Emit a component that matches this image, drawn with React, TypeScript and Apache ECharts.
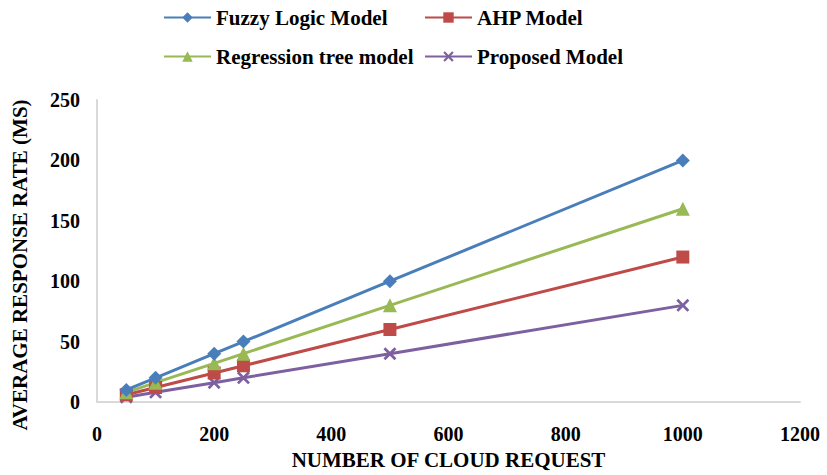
import React, { useEffect, useRef } from "react";
import * as echarts from "echarts";

const requests = [50, 100, 200, 250, 500, 1000];
const fuzzy = [10, 20, 40, 50, 100, 200];
const ahp = [6, 12, 24, 30, 60, 120];
const regression = [8, 16, 32, 40, 80, 160];
const proposed = [4, 8, 16, 20, 40, 80];

const seriesNames = ["Fuzzy Logic Model", "AHP Model", "Regression tree model", "Proposed Model"];
const xTicks = [0, 200, 400, 600, 800, 1000, 1200];
const yTicks = [0, 50, 100, 150, 200, 250];

const FONT = "'Liberation Serif', 'Times New Roman', serif";
const X_PATH =
  "path://M0,1.5 L1.5,0 L5,3.5 L8.5,0 L10,1.5 L6.5,5 L10,8.5 L8.5,10 L5,6.5 L1.5,10 L0,8.5 L3.5,5 Z";

export default function App() {
  const ref = useRef<HTMLDivElement>(null);
  useEffect(() => {
    document.body.style.margin = "0";
    if (!ref.current) return;
    const chart = echarts.init(ref.current, undefined, { renderer: "svg" });
    const pair = (ys: number[]) => requests.map((x, i) => [x, ys[i]]);
    const legendBase = {
      itemWidth: 47,
      itemHeight: 13,
      padding: 0,
      textStyle: { fontFamily: FONT, fontWeight: "bold" as const, fontSize: 21, color: "#000" },
    };
    chart.setOption({
      animation: false,
      backgroundColor: "#fff",
      legend: [
        { ...legendBase, data: [seriesNames[0]], left: 163, top: 7 },
        { ...legendBase, data: [seriesNames[1]], left: 424, top: 7 },
        { ...legendBase, data: [seriesNames[2]], left: 163, top: 46 },
        { ...legendBase, data: [seriesNames[3]], left: 424, top: 46 },
      ],
      grid: { left: 97, right: 27, top: 100, bottom: 70, containLabel: false },
      xAxis: {
        type: "value",
        min: 0,
        max: 1200,
        interval: 200,
        name: "NUMBER OF CLOUD REQUEST",
        nameLocation: "middle",
        nameGap: 47,
        nameTextStyle: { fontFamily: FONT, fontWeight: "bold", fontSize: 21, color: "#000" },
        axisLine: { lineStyle: { color: "#d9d9d9", width: 2 } },
        axisTick: { show: false },
        splitLine: { show: false },
        axisLabel: {
          margin: 22,
          fontFamily: FONT,
          fontWeight: "bold",
          fontSize: 20,
          color: "#000",
          formatter: (v: number) => (xTicks.includes(v) ? String(v) : ""),
        },
      },
      yAxis: {
        type: "value",
        min: 0,
        max: 250,
        interval: 50,
        axisLine: { show: true, lineStyle: { color: "#d9d9d9", width: 2 } },
        axisTick: { show: false },
        splitLine: { show: false },
        axisLabel: {
          margin: 17,
          fontFamily: FONT,
          fontWeight: "bold",
          fontSize: 20,
          color: "#000",
          formatter: (v: number) => (yTicks.includes(v) ? String(v) : ""),
        },
      },
      graphic: [
        {
          type: "text",
          x: 20,
          y: 265,
          rotation: Math.PI / 2,
          style: {
            text: "AVERAGE RESPONSE RATE (MS)",
            fontFamily: FONT,
            fontWeight: "bold",
            fontSize: 21,
            fill: "#000",
            textAlign: "center",
            textVerticalAlign: "middle",
          },
        },
      ],
      series: [
        {
          name: seriesNames[0],
          type: "line",
          data: pair(fuzzy),
          color: "#4A7EBB",
          symbol: "diamond",
          symbolSize: 14,
          lineStyle: { width: 3 },
          z: 4,
        },
        {
          name: seriesNames[1],
          type: "line",
          data: pair(ahp),
          color: "#BE4B48",
          symbol: "rect",
          symbolSize: 13,
          lineStyle: { width: 3 },
          z: 3,
        },
        {
          name: seriesNames[2],
          type: "line",
          data: pair(regression),
          color: "#98B954",
          symbol: "triangle",
          symbolSize: 14,
          lineStyle: { width: 3 },
          z: 3,
        },
        {
          name: seriesNames[3],
          type: "line",
          data: pair(proposed),
          color: "#7D60A0",
          symbol: X_PATH,
          symbolSize: 13,
          lineStyle: { width: 3 },
          z: 2,
        },
      ],
    });
    return () => chart.dispose();
  }, []);
  return <div ref={ref} style={{ width: 827, height: 475 }} />;
}
